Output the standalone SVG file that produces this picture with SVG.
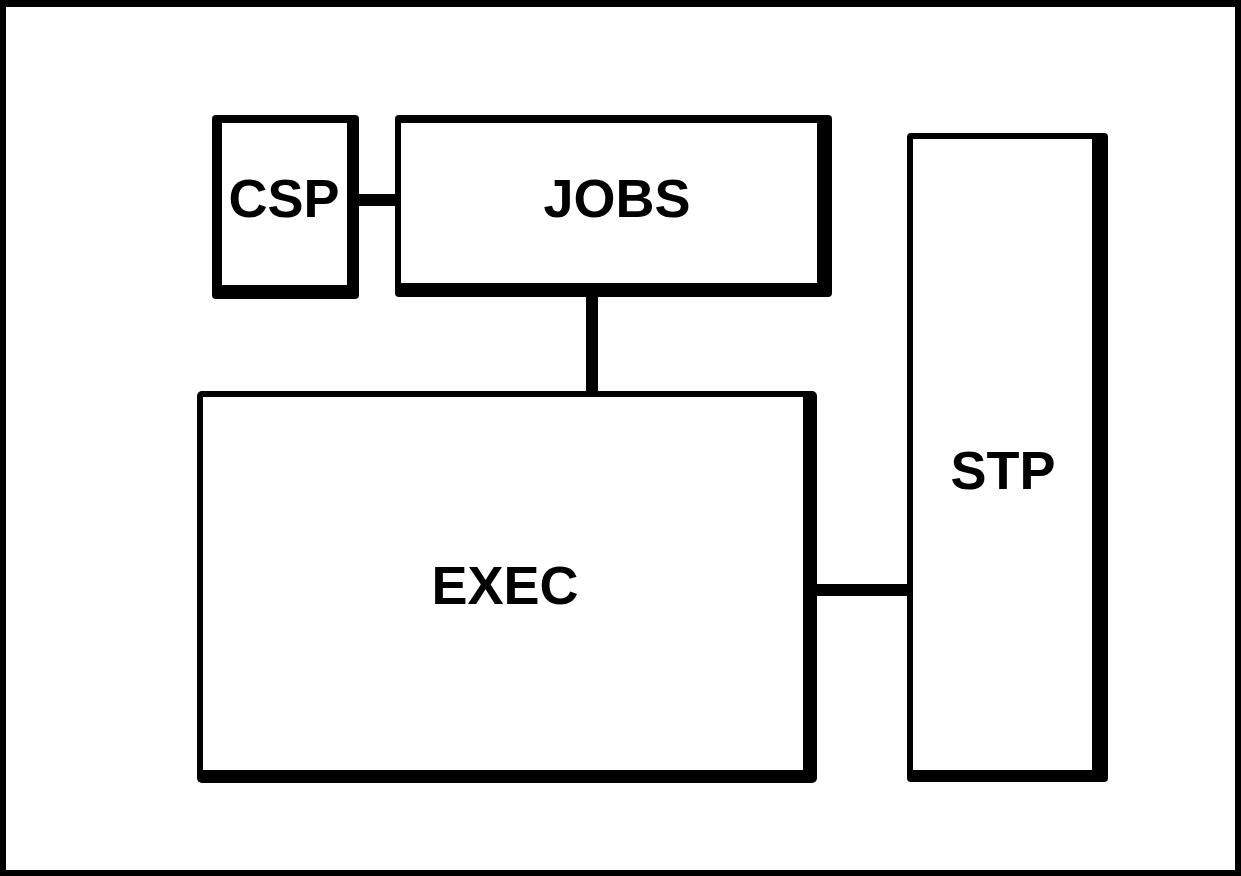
<svg xmlns="http://www.w3.org/2000/svg" width="1241" height="876" viewBox="0 0 1241 876">
<style>
.o{fill:#000}
.i{fill:#fff}
.t{font-family:"Liberation Sans",Arial,sans-serif;font-weight:bold;font-size:54px;fill:#000;text-anchor:middle}
.c{stroke:#000;stroke-width:12;fill:none}
</style>
<rect x="0" y="0" width="1241" height="876" fill="#fff"/>
<path d="M0 0H1241V876H0Z M6 7V870H1235V7Z" fill="#000" fill-rule="evenodd"/>
<g id="connectors">
<line class="c" x1="356" y1="200" x2="398" y2="200"/>
<line class="c" x1="592" y1="295" x2="592" y2="393"/>
<line class="c" x1="815" y1="590" x2="910" y2="590"/>
</g>
<g id="CSP">
<rect class="o" x="212" y="115" width="147" height="184" rx="4"/>
<rect class="i" x="222" y="123" width="125" height="162"/>
<text class="t" x="284" y="217">CSP</text>
</g>
<g id="JOBS">
<rect class="o" x="395" y="115" width="437" height="182" rx="4"/>
<rect class="i" x="401" y="123" width="416" height="160"/>
<text class="t" x="617" y="217">JOBS</text>
</g>
<g id="EXEC">
<rect class="o" x="197" y="391" width="620" height="392" rx="5"/>
<rect class="i" x="203" y="397" width="600" height="373"/>
<text class="t" x="505" y="604">EXEC</text>
</g>
<g id="STP">
<rect class="o" x="907" y="133" width="201" height="649" rx="4"/>
<rect class="i" x="913" y="139" width="179" height="631"/>
<text class="t" x="1003" y="489">STP</text>
</g>
</svg>
